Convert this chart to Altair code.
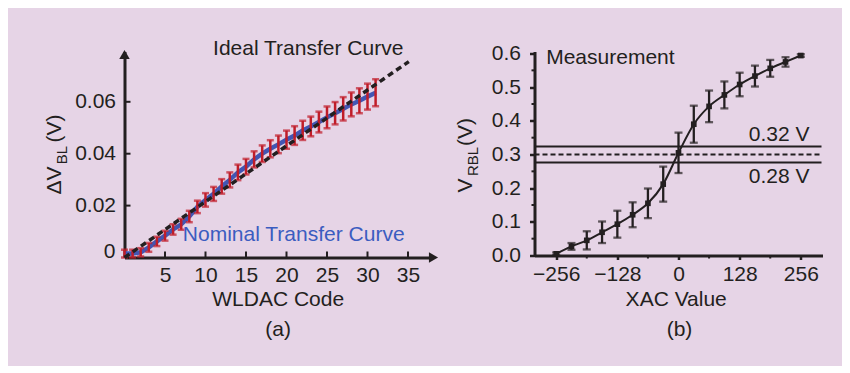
import altair as alt
import pandas as pd

# ---------------- data: panel (a) ----------------
wldac_code = list(range(32))
dvbl_nominal = [0.0015, 0.0015, 0.0020, 0.0039, 0.0062, 0.0084, 0.0108, 0.0128,
                0.0158, 0.0195, 0.0222, 0.0245, 0.0274, 0.0299, 0.0328, 0.0350,
                0.0378, 0.0400, 0.0419, 0.0436, 0.0454, 0.0470, 0.0490, 0.0505,
                0.0522, 0.0540, 0.0556, 0.0573, 0.0590, 0.0604, 0.0620, 0.0635]
dvbl_err = [0.0015, 0.0015, 0.0016, 0.0017, 0.0018, 0.0019, 0.0020, 0.0021,
            0.0022, 0.0024, 0.0026, 0.0027, 0.0028, 0.0029, 0.0030, 0.0030,
            0.0031, 0.0032, 0.0033, 0.0034, 0.0035, 0.0036, 0.0037, 0.0038,
            0.0040, 0.0042, 0.0043, 0.0045, 0.0046, 0.0048, 0.0050, 0.0052]
ideal_code = [0, 35.1]
ideal_dvbl = [0.0, 0.0755]
a_xticks = [5, 10, 15, 20, 25, 30, 35]
a_yticks = [0.02, 0.04, 0.06]

# ---------------- data: panel (b) ----------------
xac_value = [-256, -224, -192, -160, -128, -96, -64, -32, 0,
             32, 64, 96, 128, 160, 192, 224, 256]
vrbl = [0.005, 0.027, 0.045, 0.069, 0.093, 0.121, 0.155, 0.212, 0.305,
        0.390, 0.443, 0.477, 0.508, 0.533, 0.556, 0.575, 0.594]
vrbl_err = [0.004, 0.010, 0.027, 0.032, 0.040, 0.037, 0.044, 0.052, 0.060,
            0.055, 0.047, 0.040, 0.035, 0.031, 0.025, 0.014, 0.004]
b_xticks_major = [-256, -128, 0, 128, 256]
b_xticks_minor = [-192, -64, 64, 192]
b_yticks_major = [0.0, 0.1, 0.2, 0.3, 0.4, 0.5, 0.6]
b_yticks_minor = [0.05, 0.15, 0.25, 0.35, 0.45, 0.55]
band_levels = [0.324, 0.276]
mid_level = [0.30]

# ---------------- styles ----------------
FONT = "Liberation Sans"
FS = 21
SUB = 15
DARK = "#231f20"
RED = "#c01d29"
BLUE = "#4256b3"
BLUE_TXT = "#3b5cc0"
BG = "#e6d4e6"

A_W, A_H = 306, 206
A_XMAX = 306 / 8.1
A_YMAX = 206 / 2595
B_W, B_H = 288, 204
B_XMAX = 301.4
B_YMAX = 0.606

# ---------------- panel (a) ----------------
dfa = pd.DataFrame({"x": wldac_code, "y": dvbl_nominal,
                    "lo": [v - e for v, e in zip(dvbl_nominal, dvbl_err)],
                    "hi": [v + e for v, e in zip(dvbl_nominal, dvbl_err)]})
dfi = pd.DataFrame({"x": ideal_code, "y": ideal_dvbl})

xa_axis = alt.Axis(values=a_xticks, ticks=False, title=None, grid=False,
                   domainWidth=3, domainColor=DARK, labelPadding=7,
                   labelFontSize=FS, labelFont=FONT, labelColor=DARK)
ya_axis = alt.Axis(values=a_yticks, ticks=False, title=None, grid=False, format=".2f",
                   domainWidth=3, domainColor=DARK, labelPadding=9,
                   labelFontSize=FS, labelFont=FONT, labelColor=DARK)
xa_scale = alt.Scale(domain=[0, A_XMAX], nice=False, zero=False)
ya_scale = alt.Scale(domain=[0, A_YMAX], nice=False, zero=False)


def XA(f="x"):
    return alt.X(f"{f}:Q", scale=xa_scale, axis=xa_axis)


def YA(f="y"):
    return alt.Y(f"{f}:Q", scale=ya_scale, axis=ya_axis)


def txt(s, x, y, size=FS, color=DARK, align="center", angle=None):
    kw = dict(font=FONT, fontSize=size, color=color, align=align, baseline="middle")
    if angle is not None:
        kw["angle"] = angle
    return alt.Chart(pd.DataFrame({"k": [0]})).mark_text(**kw).encode(
        x=alt.value(x), y=alt.value(y), text=alt.value(s))


a_base = alt.Chart(dfa)
blue_line = a_base.mark_line(color=BLUE, strokeWidth=4.5).encode(x=XA(), y=YA())
red_bars = a_base.mark_rule(color=RED, strokeWidth=2.5).encode(x=XA(), y=YA("lo"), y2="hi:Q")
red_cap_lo = a_base.mark_tick(color=RED, orient="horizontal", size=7, thickness=2.5).encode(x=XA(), y=YA("lo"))
red_cap_hi = a_base.mark_tick(color=RED, orient="horizontal", size=7, thickness=2.5).encode(x=XA(), y=YA("hi"))
ideal = alt.Chart(dfi).mark_line(color=DARK, strokeWidth=3.5, strokeDash=[6, 4]).encode(x=XA(), y=YA())

a_yt = alt.Chart(pd.DataFrame({"y": a_yticks})).mark_rule(color=DARK, strokeWidth=2).encode(
    y=YA(), x=alt.value(0), x2=alt.value(6))
a_xt = alt.Chart(pd.DataFrame({"x": a_xticks})).mark_rule(color=DARK, strokeWidth=2).encode(
    x=XA(), y=alt.value(A_H), y2=alt.value(A_H - 6))

arrow_up = alt.Chart(pd.DataFrame({"k": [0]})).mark_point(
    shape="triangle-up", filled=True, size=110, color=DARK, opacity=1).encode(
    x=alt.value(0), y=alt.value(3))
arrow_right = alt.Chart(pd.DataFrame({"k": [0]})).mark_point(
    shape="triangle-right", filled=True, size=110, color=DARK, opacity=1).encode(
    x=alt.value(A_W + 3), y=alt.value(A_H))

a_texts = [
    txt("0", -9, A_H - 6, align="right"),
    txt("Ideal Transfer Curve", 183.7, -3),
    txt("Nominal Transfer Curve", 169.2, 183.3, color=BLUE_TXT),
    txt("WLDAC Code", 153.7, 248),
    txt("(a)", 153.7, 278),
    txt("\u0394V", -70, 129, angle=270),
    txt("BL", -63, 103.5, size=SUB, angle=270),
    txt("(V)", -70, 77, angle=270),
]

panel_a = alt.layer(blue_line, red_bars, red_cap_lo, red_cap_hi, ideal,
                    a_yt, a_xt, arrow_up, arrow_right, *a_texts).properties(width=A_W, height=A_H)

# ---------------- panel (b) ----------------
dfb = pd.DataFrame({"x": xac_value, "y": vrbl,
                    "lo": [v - e for v, e in zip(vrbl, vrbl_err)],
                    "hi": [v + e for v, e in zip(vrbl, vrbl_err)]})

xb_axis = alt.Axis(values=b_xticks_major, title=None, grid=False,
                   domainWidth=3, domainColor=DARK, tickSize=4, tickWidth=2.5, tickColor=DARK,
                   labelPadding=4, labelFontSize=FS, labelFont=FONT, labelColor=DARK,
                   labelExpr="datum.value < 0 ? '\u2212' + abs(datum.value) : '' + datum.value")
yb_axis = alt.Axis(values=b_yticks_major, title=None, grid=False, format=".1f",
                   domainWidth=3, domainColor=DARK, tickSize=5, tickWidth=2.5, tickColor=DARK,
                   labelPadding=9, labelFontSize=FS, labelFont=FONT, labelColor=DARK)
xb_scale = alt.Scale(domain=[-B_XMAX, B_XMAX], nice=False, zero=False)
yb_scale = alt.Scale(domain=[0, B_YMAX], nice=False, zero=False)


def XB(f="x"):
    return alt.X(f"{f}:Q", scale=xb_scale, axis=xb_axis)


def YB(f="y"):
    return alt.Y(f"{f}:Q", scale=yb_scale, axis=yb_axis)


b_base = alt.Chart(dfb)
b_line = b_base.mark_line(color=DARK, strokeWidth=2, interpolate="monotone").encode(x=XB(), y=YB())
b_bars = b_base.mark_rule(color=DARK, strokeWidth=2.3).encode(x=XB(), y=YB("lo"), y2="hi:Q")
b_cap_lo = b_base.mark_tick(color=DARK, orient="horizontal", size=8, thickness=2.3).encode(x=XB(), y=YB("lo"))
b_cap_hi = b_base.mark_tick(color=DARK, orient="horizontal", size=8, thickness=2.3).encode(x=XB(), y=YB("hi"))
b_pts = b_base.mark_square(color=DARK, size=32, opacity=1).encode(x=XB(), y=YB())

b_band = alt.Chart(pd.DataFrame({"y": band_levels})).mark_rule(color=DARK, strokeWidth=2).encode(
    y=YB(), x=alt.value(0), x2=alt.value(B_W - 1))
b_mid = alt.Chart(pd.DataFrame({"y": mid_level})).mark_rule(color=DARK, strokeWidth=2, strokeDash=[5, 3]).encode(
    y=YB(), x=alt.value(0), x2=alt.value(B_W - 1))

b_ymin = alt.Chart(pd.DataFrame({"y": b_yticks_minor})).mark_rule(color=DARK, strokeWidth=2).encode(
    y=YB(), x=alt.value(-3), x2=alt.value(0))
b_xmin = alt.Chart(pd.DataFrame({"x": b_xticks_minor})).mark_rule(color=DARK, strokeWidth=2).encode(
    x=XB(), y=alt.value(B_H), y2=alt.value(B_H + 3))

b_texts = [
    txt("Measurement", 11.7, 6.7, align="left"),
    txt("0.32 V", 275, 83.5, align="right"),
    txt("0.28 V", 275, 125, align="right"),
    txt("XAC Value", 141.7, 248),
    txt("(b)", 145, 278),
    txt("V", -68.3, 134, angle=270),
    txt("RBL", -62, 110, size=SUB, angle=270),
    txt("(V)", -68.3, 80.5, angle=270),
]

panel_b = alt.layer(b_band, b_mid, b_line, b_bars, b_cap_lo, b_cap_hi, b_pts,
                    b_ymin, b_xmin, *b_texts).properties(width=B_W, height=B_H)

chart = alt.hconcat(panel_a, panel_b, spacing=16).properties(
    background=BG,
    padding={"left": 35.5, "top": 29.5, "right": 19, "bottom": 26},
).configure_view(stroke=None)

chart.save("out.html", embed_options={"renderer": "svg", "actions": False})
